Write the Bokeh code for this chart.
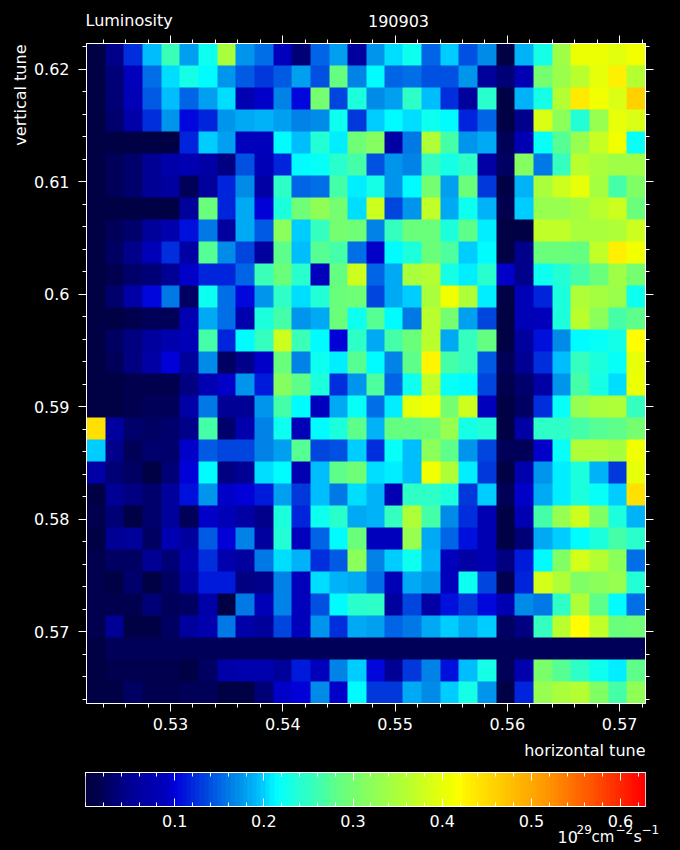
import numpy as np
from bokeh.core.properties import value
from bokeh.embed import file_html
from bokeh.resources import INLINE
from bokeh.layouts import column, row
from bokeh.plotting import figure
from bokeh.models import (LinearColorMapper, LinearAxis, FixedTicker,
                          CustomJSTickFormatter, Range1d)

TITLE_LEFT = "Luminosity"
TITLE_MID = "190903"
X_LABEL = "horizontal tune"
Y_LABEL = "vertical tune"

X_RANGE = (0.52252, 0.57230)
Y_RANGE = (0.56360, 0.62227)
C_RANGE = (0.0, 0.628)

X_MAJOR = [0.53, 0.54, 0.55, 0.56, 0.57]
Y_MAJOR = [0.57, 0.58, 0.59, 0.60, 0.61, 0.62]
C_MAJOR = [0.1, 0.2, 0.3, 0.4, 0.5, 0.6]

# rows from the top of the chart, columns from the left (10^29 cm^-2 s^-1)
row00 = [.01,.045,.125,.195,.26,.18,.225,.35,.175,.155,.09,.035,.15,.18,.06,.175,.205,.225,.15,.2,.14,.17,.01,.19,.23,.34,.405,.405,.395,.41]
row01 = [.01,.035,.09,.155,.205,.23,.215,.175,.145,.13,.145,.18,.14,.285,.165,.215,.15,.155,.14,.14,.175,.055,.035,.08,.3,.335,.365,.4,.43,.36]
row02 = [.01,.035,.085,.145,.195,.15,.18,.205,.08,.095,.165,.105,.3,.135,.235,.17,.18,.25,.195,.125,.055,.245,.01,.19,.23,.36,.435,.41,.39,.46]
row03 = [.01,.03,.07,.125,.175,.105,.12,.175,.185,.19,.18,.165,.17,.225,.13,.2,.215,.205,.225,.215,.12,.15,.01,.045,.39,.32,.24,.33,.4,.39]
row04 = [.01,.012,.012,.012,.012,.12,.2,.18,.09,.09,.215,.195,.24,.21,.295,.315,.065,.16,.355,.265,.175,.185,.02,.08,.22,.275,.33,.375,.41,.22]
row05 = [.01,.02,.03,.05,.07,.08,.065,.04,.14,.085,.12,.215,.22,.245,.265,.14,.175,.165,.255,.23,.25,.065,.025,.315,.16,.255,.365,.35,.34,.34]
row06 = [.01,.02,.03,.05,.06,.02,.055,.12,.17,.065,.25,.15,.155,.265,.21,.23,.175,.215,.3,.18,.29,.13,.01,.19,.35,.38,.4,.345,.265,.31]
row07 = [.01,.012,.012,.012,.012,.055,.29,.12,.185,.1,.235,.295,.325,.3,.205,.38,.135,.175,.37,.185,.225,.19,.015,.2,.33,.33,.345,.365,.38,.29]
row08 = [.01,.02,.03,.055,.075,.11,.16,.06,.185,.145,.32,.2,.255,.3,.295,.165,.255,.29,.29,.235,.28,.21,.01,.012,.37,.37,.35,.35,.355,.38]
row09 = [.01,.025,.045,.085,.125,.065,.275,.17,.135,.06,.28,.195,.275,.265,.155,.095,.215,.235,.29,.27,.2,.215,.01,.045,.29,.29,.285,.37,.43,.41]
row10 = [.01,.015,.03,.035,.05,.095,.12,.12,.15,.26,.29,.245,.09,.285,.38,.15,.185,.35,.36,.23,.21,.245,.095,.045,.225,.24,.265,.29,.34,.3]
row11 = [.01,.03,.065,.105,.16,.025,.225,.155,.105,.175,.25,.205,.24,.29,.295,.135,.185,.2,.35,.41,.355,.21,.01,.085,.12,.235,.355,.345,.335,.225]
row12 = [.01,.012,.015,.02,.02,.08,.185,.155,.075,.235,.265,.175,.185,.29,.225,.275,.215,.16,.365,.3,.18,.135,.01,.085,.09,.235,.365,.32,.265,.28]
row13 = [.01,.025,.04,.06,.075,.085,.265,.12,.215,.255,.38,.26,.215,.1,.25,.185,.265,.29,.365,.185,.255,.285,.01,.06,.11,.17,.215,.22,.23,.42]
row14 = [.01,.02,.04,.065,.1,.055,.17,.025,.045,.095,.29,.165,.225,.21,.275,.215,.165,.28,.425,.265,.255,.145,.02,.05,.125,.195,.255,.235,.22,.4]
row15 = [.01,.012,.015,.015,.015,.04,.08,.095,.175,.115,.315,.28,.235,.125,.175,.27,.15,.225,.37,.22,.215,.135,.015,.03,.065,.175,.265,.23,.205,.405]
row16 = [.01,.012,.015,.02,.02,.065,.16,.05,.05,.175,.265,.215,.09,.185,.22,.155,.21,.4,.41,.3,.38,.09,.012,.025,.125,.22,.33,.35,.355,.255]
row17 = [.445,.06,.03,.025,.03,.045,.265,.03,.075,.165,.225,.085,.215,.235,.28,.19,.285,.285,.295,.33,.23,.24,.012,.065,.25,.25,.265,.275,.28,.3]
row18 = [.2,.045,.02,.03,.03,.095,.145,.135,.135,.165,.18,.275,.135,.14,.2,.125,.22,.195,.32,.28,.175,.135,.02,.02,.095,.22,.355,.355,.345,.41]
row19 = [.065,.035,.025,.01,.035,.1,.215,.04,.05,.205,.215,.08,.195,.28,.295,.205,.21,.195,.41,.355,.21,.13,.01,.075,.175,.21,.235,.19,.13,.4]
row20 = [.012,.05,.04,.03,.055,.11,.175,.095,.1,.115,.18,.13,.195,.16,.205,.19,.08,.25,.25,.235,.13,.2,.02,.095,.185,.21,.235,.22,.2,.445]
row21 = [.015,.035,.01,.03,.055,.02,.095,.085,.065,.045,.235,.12,.225,.245,.185,.19,.255,.355,.265,.17,.125,.08,.01,.08,.265,.33,.38,.31,.235,.19]
row22 = [.01,.05,.055,.025,.08,.06,.145,.1,.165,.06,.24,.09,.15,.215,.29,.09,.09,.33,.185,.15,.11,.08,.01,.035,.185,.2,.215,.235,.265,.245]
row23 = [.015,.025,.025,.05,.035,.075,.125,.075,.06,.16,.205,.19,.125,.145,.32,.165,.2,.225,.19,.09,.065,.08,.04,.115,.215,.31,.385,.36,.32,.155]
row24 = [.015,.012,.03,.01,.025,.06,.115,.115,.04,.045,.165,.09,.205,.19,.185,.155,.085,.185,.175,.09,.225,.135,.015,.12,.385,.355,.31,.32,.33,.24]
row25 = [.015,.015,.015,.035,.02,.025,.07,.012,.16,.085,.165,.09,.14,.215,.245,.25,.06,.135,.065,.11,.13,.105,.08,.17,.16,.25,.355,.28,.215,.155]
row26 = [.015,.05,.012,.012,.025,.06,.075,.16,.07,.055,.135,.09,.175,.125,.185,.18,.15,.16,.185,.2,.185,.2,.025,.04,.255,.365,.42,.37,.29,.295]
row27 = [.012,.02,.02,.02,.02,.02,.02,.02,.02,.02,.02,.02,.02,.02,.02,.02,.02,.02,.02,.02,.02,.02,.02,.02,.02,.02,.02,.02,.02,.02]
row28 = [.012,.015,.015,.015,.015,.012,.025,.07,.075,.075,.055,.115,.09,.165,.2,.105,.05,.13,.165,.11,.195,.23,.02,.075,.305,.275,.25,.225,.21,.28]
row29 = [.012,.012,.025,.015,.015,.02,.02,.012,.01,.035,.095,.1,.17,.095,.215,.13,.13,.185,.17,.2,.23,.175,.012,.12,.33,.35,.36,.31,.265,.325]

ROWS = [row00,row01,row02,row03,row04,row05,row06,row07,row08,row09,
        row10,row11,row12,row13,row14,row15,row16,row17,row18,row19,
        row20,row21,row22,row23,row24,row25,row26,row27,row28,row29]

# colour scale
STOP_V = [0,.01,.03,.05,.09,.10,.115,.13,.15,.165,.18,.195,.205,.215,.235,.26,.285,.33,.36,.39,.41,.42,.43,.46,.52,.58,.628]
STOP_R = [0,0,0,0,0,0,0,0,0,0,0,0,0,0,30,60,100,150,180,220,240,255,255,255,255,255,255]
STOP_G = [0,0,0,0,0,0,30,60,100,130,160,190,225,255,255,255,255,255,255,255,255,255,240,210,150,70,0]
STOP_B = [65,70,110,150,190,220,220,220,230,230,240,255,255,255,220,180,130,80,50,20,0,0,0,0,0,0,0]

lv = np.linspace(C_RANGE[0], C_RANGE[1], 256)
palette = ["#%02x%02x%02x" % (int(r), int(g), int(b)) for r, g, b in zip(
    np.interp(lv, STOP_V, STOP_R), np.interp(lv, STOP_V, STOP_G), np.interp(lv, STOP_V, STOP_B))]
mapper = LinearColorMapper(palette=palette, low=C_RANGE[0], high=C_RANGE[1])

WHITE = "#ffffff"
FONT = "DejaVu Sans"
SIZE = 16
FRAME_W, FRAME_H, BAR_H = 560, 660, 34
BASELINE_SHIFT = 0.36  # the SVG output draws "alphabetic" text this many em below the asked position

fmt = CustomJSTickFormatter(code="return String(+tick.toFixed(2));")

def minors(lo, hi, step):
    k0, k1 = int(np.ceil(lo / step)), int(np.floor(hi / step))
    return [k * step for k in range(k0, k1 + 1)]

def style_axis(ax, labels=True, tick_in=False):
    ax.axis_line_color = WHITE
    ax.major_tick_line_color = WHITE
    ax.minor_tick_line_color = WHITE
    ax.major_tick_out = 0 if tick_in else 8
    ax.minor_tick_out = 0 if tick_in else 4
    ax.major_tick_in = 8 if tick_in else 0
    ax.minor_tick_in = 4 if tick_in else 0
    ax.major_label_text_color = WHITE if labels else None
    ax.major_label_text_font = FONT
    ax.major_label_text_font_size = "%dpx" % SIZE if labels else "1px"
    ax.major_label_standoff = 5 if labels else 0
    if labels:
        ax.formatter = fmt

def strip(w, h):
    """A plain black band whose x and y run in pixels, for texts outside the plot frames."""
    f = figure(width=w, height=h, output_backend="svg", toolbar_location=None,
               x_range=Range1d(0, w), y_range=Range1d(0, h), frame_align=False,
               x_axis_location=None, y_axis_location=None, min_border=0,
               background_fill_color="black", border_fill_color="black")
    f.grid.visible = False
    f.outline_line_color = None
    return f

def put(f, x, y, text, align="left", angle=0.0, size=SIZE):
    if angle:
        x -= BASELINE_SHIFT * size
    else:
        y += BASELINE_SHIFT * size
    f.text(x=[x], y=[y], text=[text], text_color=WHITE, text_font=value(FONT), text_font_size="%dpx" % size,
           text_align=align, text_baseline="alphabetic", angle=angle)

# ---------- title band ----------
H_TOP = 30
top_band = strip(680, H_TOP)
put(top_band, 85, H_TOP - 26, TITLE_LEFT)
put(top_band, 398, H_TOP - 26.5, TITLE_MID, align="center")

# ---------- heat map ----------
# each grid cell repeated up to screen pixels, so that no seams appear between cells
grid = np.array(ROWS)
ix = np.minimum((np.arange(FRAME_W) + 0.5) * grid.shape[1] / FRAME_W, grid.shape[1] - 1).astype(int)
iy = np.minimum((np.arange(FRAME_H) + 0.5) * grid.shape[0] / FRAME_H, grid.shape[0] - 1).astype(int)
img = grid[iy][:, ix][::-1]

H_MAIN = 707
p = figure(width=650, height=H_MAIN, output_backend="svg", toolbar_location=None,
           x_range=Range1d(*X_RANGE), y_range=Range1d(*Y_RANGE), frame_align=False,
           min_border_left=55, min_border_right=35, min_border_top=13, min_border_bottom=34,
           background_fill_color="black", border_fill_color="black")
p.grid.visible = False
p.outline_line_color = WHITE
p.image(image=[img], x=X_RANGE[0], y=Y_RANGE[0], dw=X_RANGE[1] - X_RANGE[0], dh=Y_RANGE[1] - Y_RANGE[0],
        color_mapper=mapper)

xt = FixedTicker(ticks=X_MAJOR, minor_ticks=minors(X_RANGE[0], X_RANGE[1], 0.002))
yt = FixedTicker(ticks=Y_MAJOR, minor_ticks=minors(Y_RANGE[0], Y_RANGE[1], 0.002))
p.xaxis.ticker = xt
p.yaxis.ticker = yt
style_axis(p.xaxis[0])
style_axis(p.yaxis[0])
p.xaxis[0].major_label_standoff = 6
p.yaxis[0].major_label_standoff = 9
p.yaxis[0].major_label_orientation = "horizontal"
ax_top = LinearAxis(ticker=xt); style_axis(ax_top, labels=False); p.add_layout(ax_top, "above")
ax_right = LinearAxis(ticker=yt); style_axis(ax_right, labels=False); p.add_layout(ax_right, "right")

left_band = strip(30, H_MAIN)
put(left_band, 26, H_MAIN - (44 - H_TOP), Y_LABEL, align="right", angle=np.pi / 2)

# ---------- x label band ----------
H_XL = 23
xl_band = strip(680, H_XL)
put(xl_band, 645, H_XL - (756 - 737), X_LABEL, align="right")

# ---------- colour bar ----------
H_BAR = 50
bar = (np.floor(np.linspace(0, 1, FRAME_W, endpoint=False) * 128) + 0.5) / 128 * C_RANGE[1]
c = figure(width=680, height=H_BAR, output_backend="svg", toolbar_location=None,
           x_range=Range1d(*C_RANGE), y_range=Range1d(0, 1), frame_align=False,
           min_border_left=85, min_border_right=35, min_border_top=12, min_border_bottom=4,
           background_fill_color="black", border_fill_color="black")
c.grid.visible = False
c.outline_line_color = WHITE
c.image(image=[np.vstack([bar] * BAR_H)], x=C_RANGE[0], y=0, dw=C_RANGE[1] - C_RANGE[0], dh=1, color_mapper=mapper)
ct = FixedTicker(ticks=C_MAJOR, minor_ticks=minors(C_RANGE[0], C_RANGE[1], 0.02))
c.xaxis.ticker = ct
style_axis(c.xaxis[0], labels=False, tick_in=True)
c.yaxis.visible = False
ax_ct = LinearAxis(ticker=ct); style_axis(ax_ct, labels=False, tick_in=True); c.add_layout(ax_ct, "above")

# ---------- colour bar labels and unit ----------
H_LOW = 40
Y0 = 810
low_band = strip(680, H_LOW)
for t in C_MAJOR:
    put(low_band, 85 + t / C_RANGE[1] * FRAME_W, H_LOW - (826 - Y0), str(t), align="center")
put(low_band, 557, H_LOW - (842 - Y0), "10")
put(low_band, 576, H_LOW - (833 - Y0), "29", size=12)
put(low_band, 591, H_LOW - (842 - Y0), "cm", size=15)
put(low_band, 615, H_LOW - (833 - Y0), "\u22122", size=12)
put(low_band, 633, H_LOW - (842 - Y0), "s")
put(low_band, 641, H_LOW - (833 - Y0), "\u22121", size=12)

page = column(top_band, row(left_band, p, spacing=0), xl_band, c, low_band, spacing=0)
html = file_html(page, INLINE)
html = html.replace("<head>", "<head><style>html,body{background:#000}</style>", 1)
open("out.html", "w").write(html)
